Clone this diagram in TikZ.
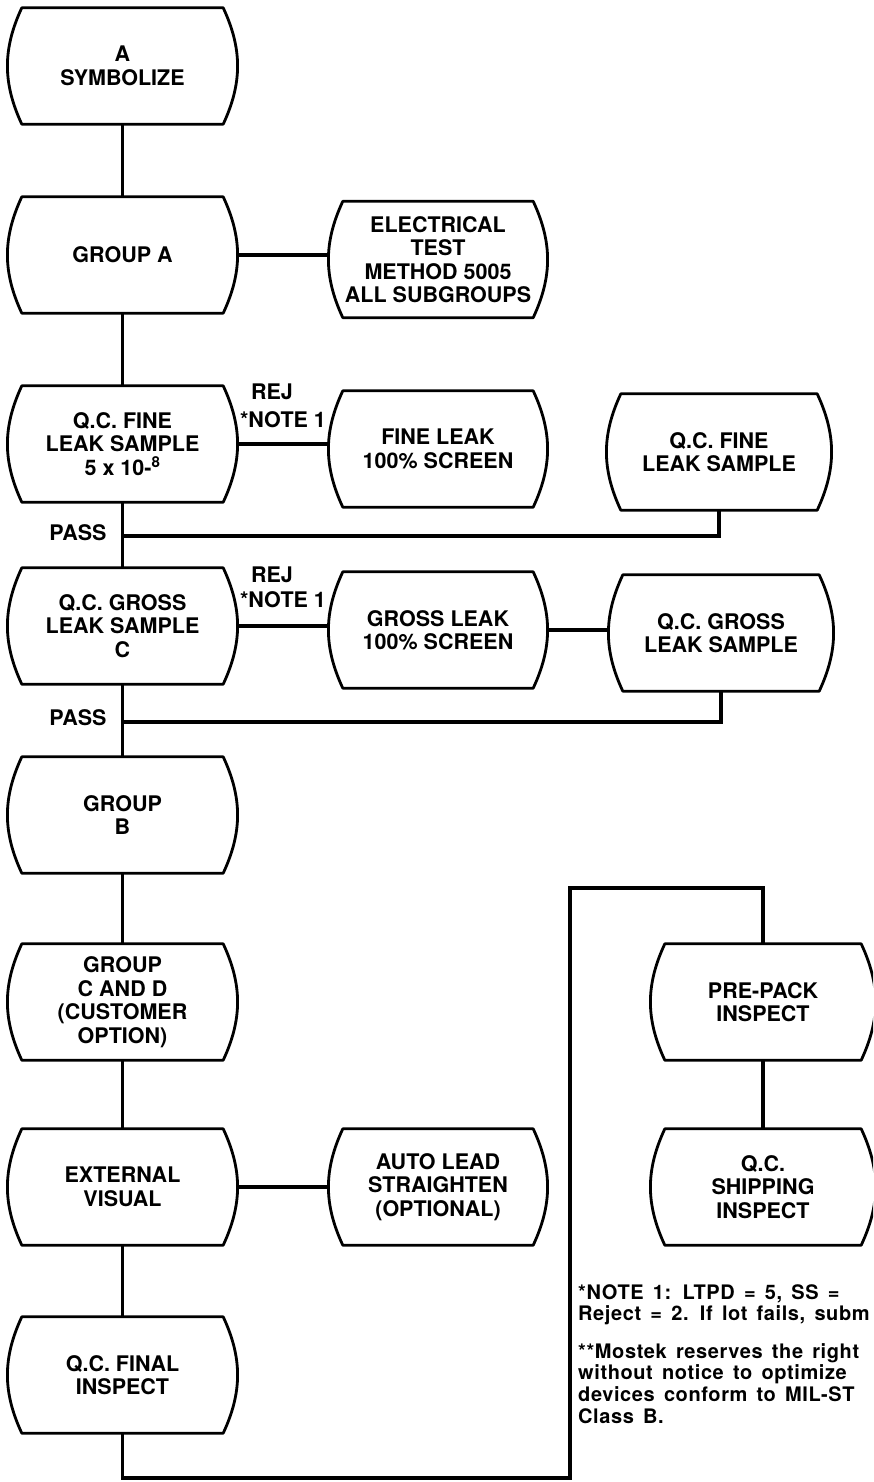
\documentclass[tikz,border=0pt]{standalone}
\usepackage{fontspec}
\setmainfont{TeX Gyre Heros}
\newfontfamily\notefont[LetterSpace=3,WordSpace=1.5]{TeX Gyre Heros}
\usetikzlibrary{positioning}
\tikzset{
  stepbox/.style={inner sep=0pt, align=center, minimum height=116pt,
                  font=\fontsize{21.5}{23.5}\selectfont\bfseries},
  leftbox/.style={stepbox, minimum width=229pt},
  midbox/.style={stepbox, minimum width=218pt},
  rightbox/.style={stepbox, minimum width=224pt},
  outline/.style={line width=2.8pt, line join=round},
  link/.style={line width=3.6pt},
  tag/.style={inner sep=0pt, font=\fontsize{21.5}{23.5}\selectfont\bfseries},
  note/.style={inner sep=0pt, align=left, anchor=north west,
               font=\notefont\fontsize{20}{21.8}\selectfont\bfseries},
}

\begin{document}
\begin{tikzpicture}[x=1pt, y=-1pt]
    \useasboundingbox (0,0) rectangle (873,1482);
    \clip (0,0) rectangle (873,1482);
    % Main line
    \node[leftbox] (sym)     at (122.5,66)   {A\\SYMBOLIZE};
    \node[leftbox] (grpa)    at (122.5,255)  {GROUP A};
    \node[leftbox] (qcfine)  at (122.5,444)  {Q.C. FINE\\LEAK SAMPLE\\5 x 10-\textsuperscript{8}};
    \node[leftbox] (qcgross) at (122.5,626)  {Q.C. GROSS\\LEAK SAMPLE\\C};
    \node[leftbox] (grpb)    at (122.5,815)  {GROUP\\B};
    \node[leftbox] (grpcd)   at (122.5,1002) {GROUP\\C AND D\\(CUSTOMER\\OPTION)};
    \node[leftbox] (extvis)  at (122.5,1187) {EXTERNAL\\VISUAL};
    \node[leftbox] (qcfinal) at (122.5,1375) {Q.C. FINAL\\INSPECT};
    % Side steps
    \node[midbox] (elec)      at (438,259.5) {ELECTRICAL\\TEST\\METHOD 5005\\ALL SUBGROUPS};
    \node[midbox] (fineleak)  at (438,449)   {FINE LEAK\\100\% SCREEN};
    \node[midbox] (grossleak) at (438,630)   {GROSS LEAK\\100\% SCREEN};
    \node[midbox] (autolead)  at (438,1187)  {AUTO LEAD\\STRAIGHTEN\\(OPTIONAL)};
    \node[rightbox] (finesmp)  at (719,452)  {Q.C. FINE\\LEAK SAMPLE};
    \node[rightbox] (grosssmp) at (721,633)  {Q.C. GROSS\\LEAK SAMPLE};
    \node[rightbox] (prepack)  at (763,1002) {PRE-PACK\\INSPECT};
    \node[rightbox] (qcship)   at (763,1187) {Q.C.\\SHIPPING\\INSPECT};
    % Box outlines
    \foreach \n in {sym,grpa,qcfine,qcgross,grpb,grpcd,extvis,qcfinal,
                    elec,fineleak,grossleak,autolead,finesmp,grosssmp,prepack,qcship}
      \draw[outline] ([xshift=14pt]\n.north west) -- ([xshift=-14pt]\n.north east)
        to[bend left=25] ([xshift=-14pt]\n.south east) -- ([xshift=14pt]\n.south west)
        to[bend left=25] cycle;
    % Labels
    \node[tag] (rej1)  at (272,392) {REJ};
    \node[tag] (note1) at (283,420) {*NOTE 1};
    \node[tag] (rej2)  at (272,575) {REJ};
    \node[tag] (note2) at (283,600) {*NOTE 1};
    \node[tag] (pass1lbl) at (78,533) {PASS};
    \node[tag] (pass2lbl) at (78,718) {PASS};
    \node[note] (ltpd)   at (578,1284) {*NOTE 1: LTPD = 5, SS = \\Reject = 2. If lot fails, subm};
    \node[note] (mostek) at (578,1343) {**Mostek reserves the right\\without notice to optimize\\devices conform to MIL-ST\\Class B.};
    % Links
    \coordinate (pass1) at (122.5,536);
    \coordinate (pass2) at (122.5,722);
    \coordinate (loopbot) at (570,1478);
    \coordinate (looptop) at (570,888);
    \draw[link] (sym) -- (grpa);
    \draw[link] (grpa) -- (qcfine);
    \draw[link] (qcfine) -- (qcgross);
    \draw[link] (qcgross) -- (grpb);
    \draw[link] (grpb) -- (grpcd);
    \draw[link] (grpcd) -- (extvis);
    \draw[link] (extvis) -- (qcfinal);
    \draw[link] (grpa.east) -- (grpa.east -| elec.west);
    \draw[link] (qcfine.east) -- (qcfine.east -| fineleak.west);
    \draw[link] (qcgross.east) -- (qcgross.east -| grossleak.west);
    \draw[link] (grossleak.east) -- (grossleak.east -| grosssmp.west);
    \draw[link] (extvis.east) -- (extvis.east -| autolead.west);
    \draw[link] (finesmp.south) |- (pass1);
    \draw[link] (grosssmp.south) |- (pass2);
    \draw[link] (prepack) -- (qcship);
    \draw[link] (qcfinal.south) -- (qcfinal.south |- loopbot) -- (loopbot)
      -- (looptop) -- (looptop -| prepack.north) -- (prepack.north);
\end{tikzpicture}
\end{document}
